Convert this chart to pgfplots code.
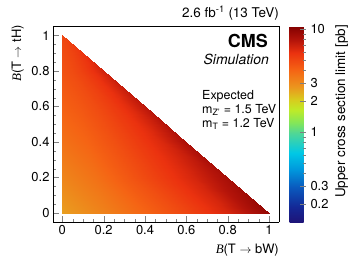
\documentclass[border=0pt]{standalone}
\usepackage{fontspec}
\setmainfont{TeX Gyre Heros}
\newfontfamily\serifit{Liberation Serif}
\usepackage{pgfplots}
\pgfplotsset{compat=1.18}

\begin{document}
\begin{tikzpicture}
\useasboundingbox (0,0) rectangle (349bp,262bp);
\begin{axis}[
  at={(53bp,40bp)}, anchor=south west,
  scale only axis, width=226bp, height=196bp,
  view={0}{90},
  xmin=-0.045, xmax=1.048, ymin=-0.0507, ymax=1.0535,
  xtick={0,0.2,0.4,0.6,0.8,1}, ytick={0,0.2,0.4,0.6,0.8,1}, ztick=\empty,
  minor tick num=3,
  tick align=inside, tick pos=left,
  major tick length=6bp, minor tick length=3bp,
  axis line style={line width=0.6bp},
  ticklabel style={font=\fontsize{13}{15}\selectfont},
  /pgf/number format/assume math mode=true,
  colormap={root}{rgb255(0)=(30,20,120) rgb255(15)=(20,40,150) rgb255(35)=(10,90,190) rgb255(52)=(0,150,220) rgb255(69)=(0,200,230) rgb255(89)=(80,215,150) rgb255(99)=(130,230,90) rgb255(112)=(190,235,40) rgb255(122)=(215,205,30) rgb255(135)=(235,150,30) rgb255(152)=(245,100,20) rgb255(169)=(235,50,15) rgb255(182)=(180,20,10) rgb255(196)=(130,0,0)},
  point meta min=-0.874, point meta max=1.029,
  colorbar,
  colorbar style={
    at={(parent axis.north east)}, anchor=north west, xshift=2bp,
    scale only axis, width=16bp, height=196bp,
    ytick={-0.69897,-0.52288,0,0.30103,0.47712,1},
    yticklabels={0.2,0.3,1,2,3,10},
    minor ytick={-0.39794,-0.30103,-0.22185,-0.15490,-0.09691,-0.04576,0.60206,0.69897,0.77815,0.84510,0.90309,0.95424},
    ytick pos=right, yticklabel pos=right, tick align=inside,
    major tick length=6bp, minor tick length=3bp,
    yticklabel style={font=\fontsize{13}{15}\selectfont, xshift=1.5bp},
    axis line style={draw=none},
  },
]
\addplot3[surf, shader=interp, mesh/rows=6, mesh/cols=6, point meta=explicit]
  table[x=x, y=y, z expr=0, meta expr={log10(\thisrow{v})}] {
x y v
0 0 2.6
0.2 0 3.2
0.4 0 4.0
0.6 0 5.0
0.8 0 6.5
1.0 0 9.5
0 0.2 3.1
0.16 0.2 3.6
0.32 0.2 4.4
0.48 0.2 5.4
0.64 0.2 6.6
0.8 0.2 8.5
0 0.4 3.6
0.12 0.4 4.0
0.24 0.4 4.6
0.36 0.4 5.4
0.48 0.4 6.4
0.6 0.4 8.2
0 0.6 4.1
0.08 0.6 4.4
0.16 0.6 4.8
0.24 0.6 5.4
0.32 0.6 6.2
0.4 0.6 7.6
0 0.8 4.6
0.04 0.8 4.8
0.08 0.8 5.1
0.12 0.8 5.5
0.16 0.8 6.0
0.2 0.8 6.8
0 1 5.0
0 1 5.0
0 1 5.0
0 1 5.0
0 1 5.0
0 1 5.0
};
\end{axis}
\node[anchor=base east, inner sep=0, font=\fontsize{13.5}{15}\selectfont] at (279bp,244bp) {2.6 fb\textsuperscript{-1} (13 TeV)};
\node[anchor=base east, inner sep=0, font=\fontsize{18}{20}\bfseries] at (268bp,214bp) {CMS};
\node[anchor=base east, inner sep=0, font=\fontsize{14}{16}\itshape] at (269bp,197bp) {Simulation};
\node[anchor=base west, inner sep=0, font=\fontsize{12.5}{14}\selectfont] at (202bp,162.7bp) {Expected};
\node[anchor=base west, inner sep=0, font=\fontsize{12.5}{14}\selectfont] at (202bp,148.7bp) {m\textsubscript{Z'} = 1.5 TeV};
\node[anchor=base west, inner sep=0, font=\fontsize{12.5}{14}\selectfont] at (202bp,134.7bp) {m\textsubscript{T} = 1.2 TeV};
\node[anchor=base east, inner sep=0, font=\fontsize{13}{15}\selectfont] at (279bp,9bp) {{\serifit\itshape B}(T $\rightarrow$ bW)};
\node[anchor=base east, inner sep=0, rotate=90, font=\fontsize{13}{15}\selectfont] at (21bp,237bp) {{\serifit\itshape B}(T $\rightarrow$ tH)};
\node[anchor=base east, inner sep=0, rotate=90, font=\fontsize{13.5}{15}\selectfont] at (345bp,237bp) {Upper cross section limit [pb]};
\end{tikzpicture}
\end{document}
